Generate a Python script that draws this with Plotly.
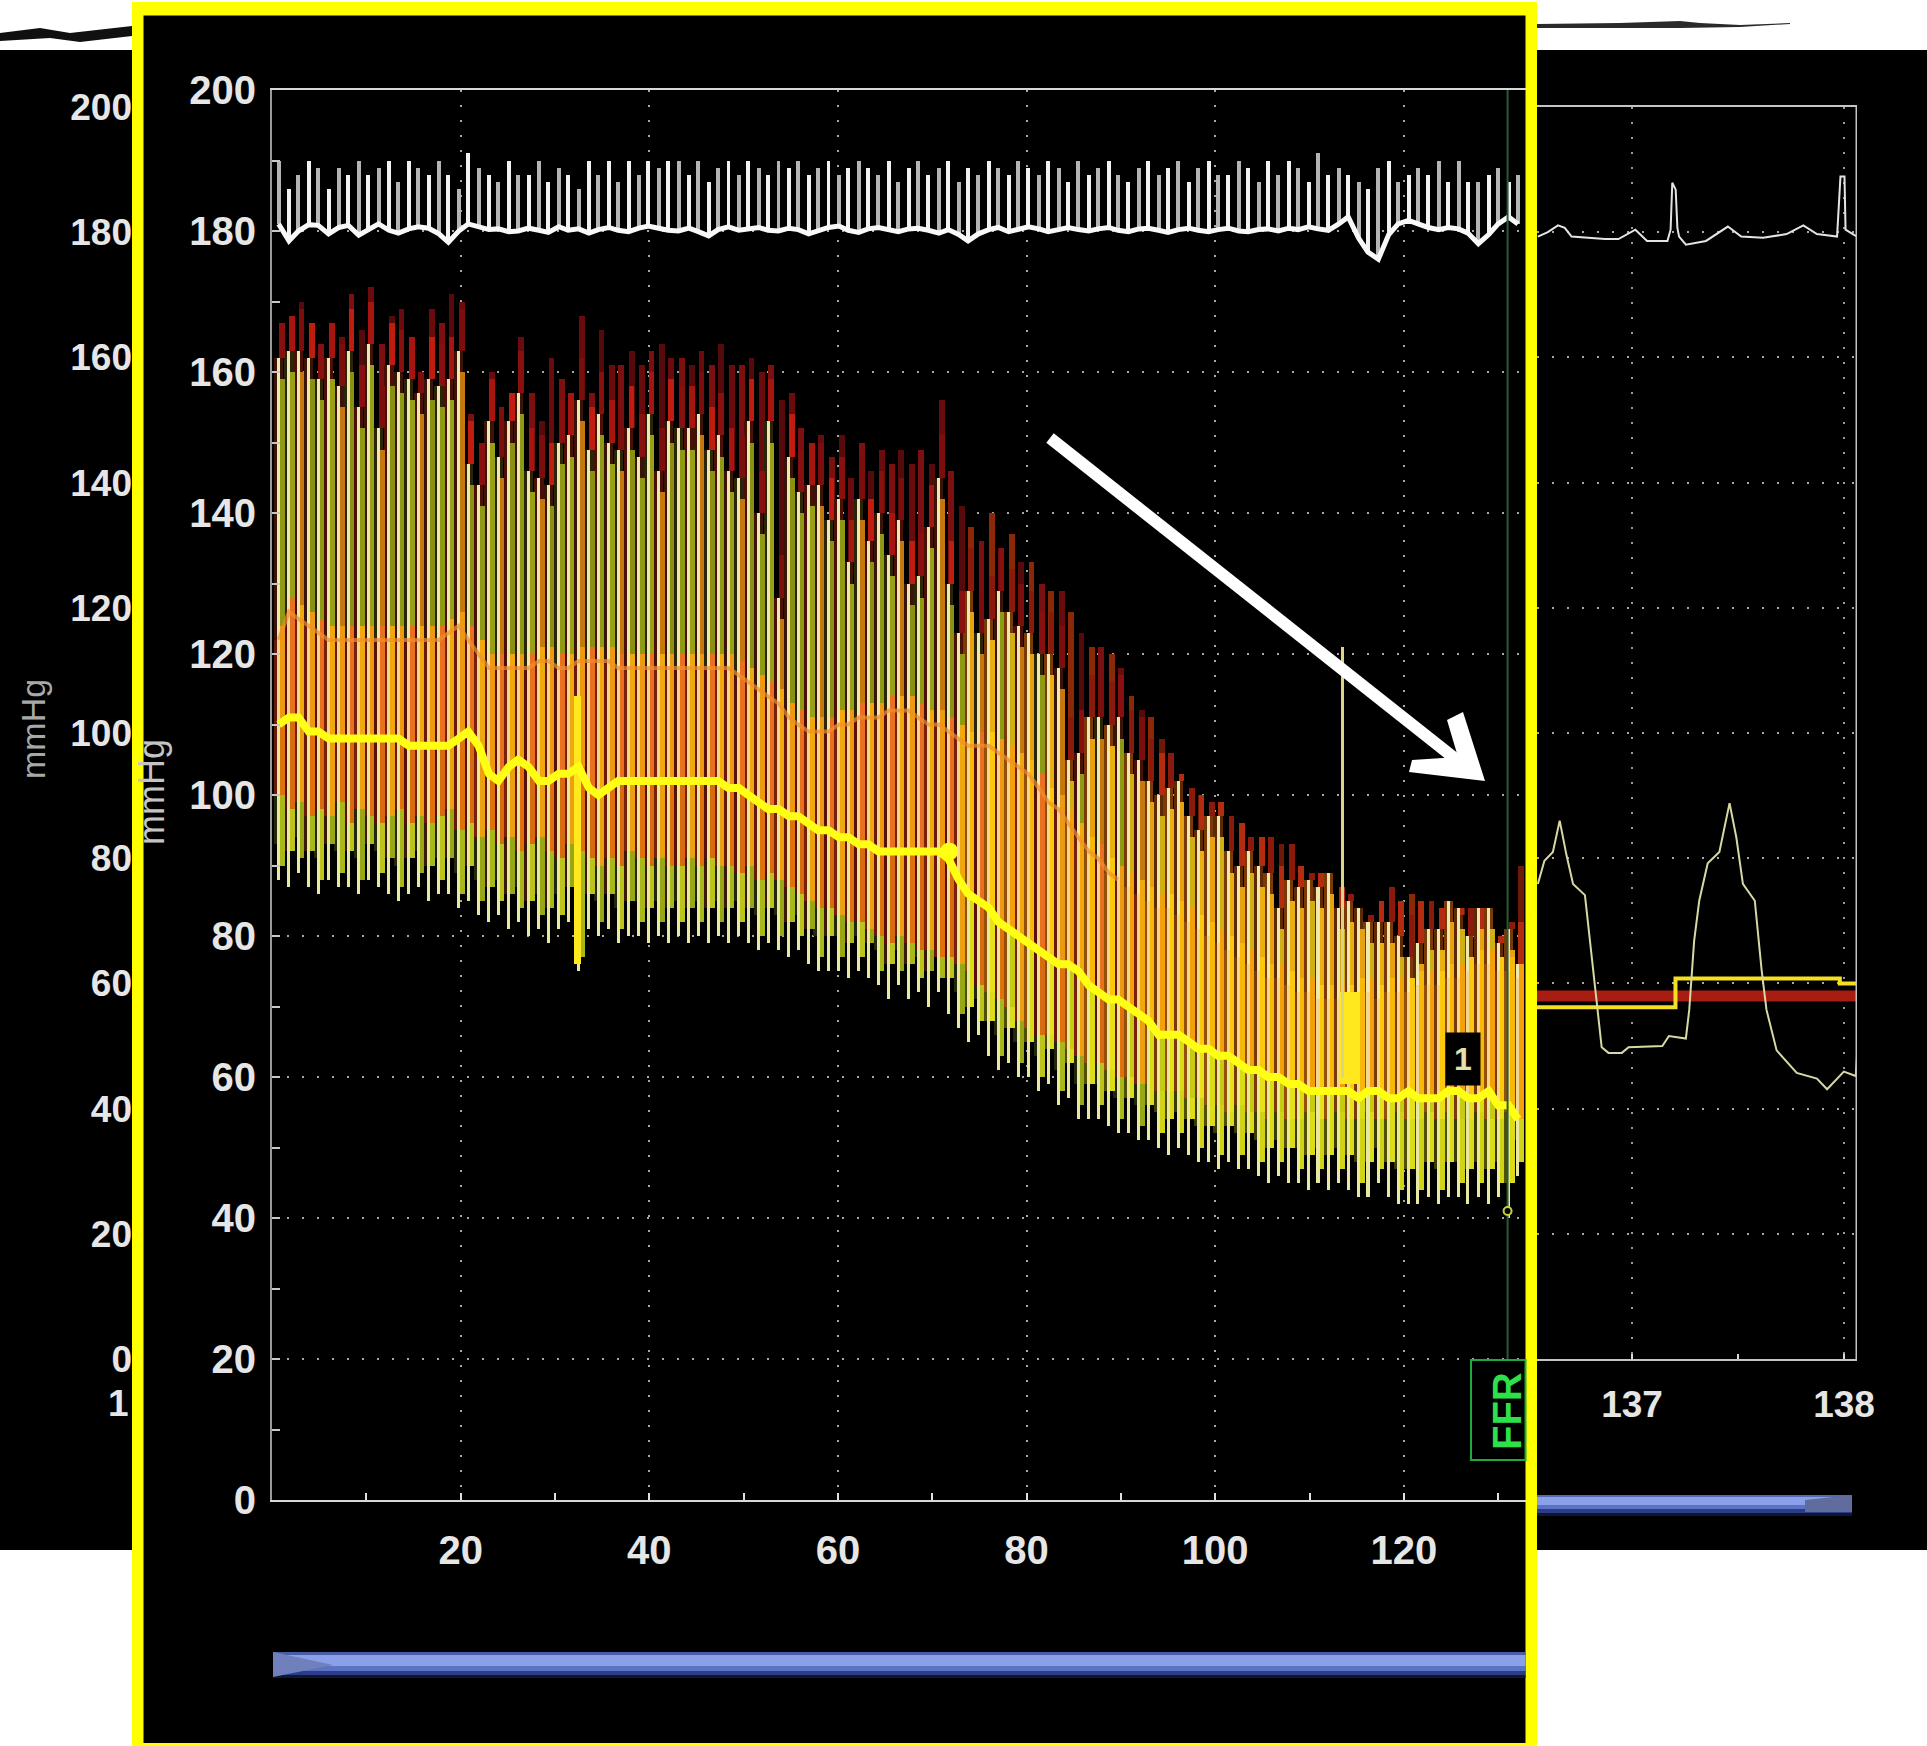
import plotly.graph_objects as go

W, H = 1927, 1746

# ---------- main recording: one entry per beat ----------
beat_x = [0.7,1.8,2.8,3.9,4.9,6.0,7.1,8.1,9.2,10.2,
11.3,12.4,13.4,14.5,15.5,16.6,17.7,18.7,19.8,20.8,
21.9,23.0,24.0,25.1,26.1,27.2,28.3,29.3,30.4,31.4,
32.5,33.6,34.6,35.7,36.7,37.8,38.9,39.9,41.0,42.0,
43.1,44.2,45.2,46.3,47.3,48.4,49.5,50.5,51.6,52.6,
53.7,54.8,55.8,56.9,57.9,59.0,60.1,61.1,62.2,63.2,
64.3,65.4,66.4,67.5,68.5,69.6,70.7,71.7,72.8,73.8,
74.9,76.0,77.0,78.1,79.1,80.2,81.3,82.3,83.4,84.4,
85.5,86.6,87.6,88.7,89.7,90.8,91.9,92.9,94.0,95.0,
96.1,97.2,98.2,99.3,100.3,101.4,102.5,103.5,104.6,105.6,
106.7,107.8,108.8,109.9,110.9,112.0,113.1,114.1,115.2,116.2,
117.3,118.4,119.4,120.5,121.5,122.6,123.7,124.7,125.8,126.8,
127.9,129.0,130.0,131.1,132.1]

pa_sys = [167,168,170,167,164,167,165,171,166,172,
164,168,169,165,160,169,167,171,170,154,
150,160,155,157,165,157,153,162,159,157,
168,157,166,161,161,163,161,163,164,162,
162,161,163,161,164,161,161,162,160,161,
156,157,152,150,151,148,151,145,150,146,
149,147,149,147,149,147,156,146,141,138,
136,140,135,137,133,133,130,129,129,126,
123,121,121,120,118,114,112,111,108,106,
103,101,100,99,99,97,96,94,94,94,
93,93,90,89,89,89,87,86,84,83,
85,87,85,86,85,85,84,85,83,84,
81,84,80,82,90]

pd_sys = [162,163,163,162,159,162,158,163,155,164,
152,161,160,159,157,159,158,159,163,147,
144,153,148,153,157,146,145,144,150,151,
156,149,154,150,149,152,148,154,146,153,
152,152,154,149,151,146,145,153,140,153,
128,148,143,144,144,139,142,133,142,136,
140,134,139,130,131,138,145,130,123,129,
123,125,129,126,124,123,120,120,118,105,
106,111,111,110,111,106,105,102,100,101,
102,97,95,97,97,92,90,92,90,89,
84,88,87,88,87,89,84,85,84,82,
82,82,80,77,79,81,81,85,84,80,
84,84,79,81,76]

pd_dia = [88,87,89,87,86,88,87,87,86,88,
87,86,85,86,87,85,86,86,84,85,
83,82,83,81,82,80,81,79,81,82,
75,81,80,81,79,80,80,79,80,79,
80,79,80,79,80,79,80,79,78,79,
78,77,78,76,75,75,75,74,75,74,
73,71,73,71,72,70,72,69,67,65,
66,63,61,62,60,60,58,59,56,57,
54,54,54,53,52,52,51,51,50,49,
50,49,48,48,47,48,47,47,46,45,
46,45,45,44,45,44,45,44,43,43,
45,43,42,42,42,43,42,43,43,42,
43,42,43,40,46]

pa_dia = [100,98,99,97,98,97,99,96,98,97,
96,97,98,96,97,96,97,98,95,96,
94,95,93,94,92,93,94,92,91,93,
92,91,90,91,90,92,91,90,91,90,
90,91,90,91,90,90,89,90,88,89,
88,87,86,85,84,84,83,82,82,81,
80,79,80,79,78,78,77,77,76,75,
73,72,71,70,68,67,66,66,65,64,
63,62,62,61,60,60,59,59,58,58,
58,57,57,56,56,55,56,55,55,54,
55,54,54,55,54,54,55,54,54,55,
54,54,55,54,54,55,54,55,54,54,
55,54,54,55,54]

pd_mean = [110,111,111,109,109,108,108,108,108,108,
108,108,108,107,107,107,107,107,108,109,
107,103,102,104,105,104,102,102,103,103,
104,101,100,101,102,102,102,102,102,102,
102,102,102,102,102,101,101,100,99,98,
98,97,97,96,95,95,94,94,93,93,
92,92,92,92,92,92,92,91,88,86,
85,84,82,81,80,79,78,77,76,76,
75,73,72,71,71,70,69,68,66,66,
66,65,64,64,63,63,62,61,61,60,
60,59,59,58,58,58,58,58,57,58,
58,57,57,58,57,57,57,58,58,57,
57,58,56,56,54]

pa_mean = [122,126,125,124,123,122,122,122,122,122,
122,122,122,122,122,122,122,123,124,122,
120,118,118,118,118,118,119,119,118,118,
119,119,119,119,118,118,118,118,118,118,
118,118,118,118,118,118,117,116,115,114,
113,111,110,109,109,109,110,110,111,111,
111,112,112,112,111,110,110,109,108,107,
107,107,106,105,104,103,101,99,98,96,
94,92,91,89,88,87,86,85,84,84,
83,82,81,80,79,78,77,76,75,74,
74,73,72,72,71,71,71,71,72,72,
71,72,72,72,73,73,73,74,74,75,
76,76,75,75,74]

ecg_base = [181.0,178.6,180.0,180.9,180.8,179.6,180.5,180.8,179.4,180.2,
181.0,180.1,179.7,180.3,180.6,180.4,179.6,178.4,180.0,181.0,
180.6,180.2,180.3,179.9,180.0,180.4,180.1,179.8,180.6,180.1,
180.3,179.7,180.2,180.5,180.1,179.9,180.4,180.7,180.4,180.1,
180.0,180.4,179.9,179.3,180.2,180.6,180.1,180.3,180.5,180.1,
180.0,180.4,180.2,179.6,180.1,180.5,180.7,180.1,179.8,180.3,
180.5,180.2,179.9,180.3,180.4,180.1,179.7,180.2,179.5,178.6,
179.6,180.2,180.5,179.9,180.3,180.6,180.3,179.9,180.2,180.5,
180.2,180.0,180.3,180.5,180.1,179.9,180.3,180.4,180.1,179.8,
180.2,180.4,180.1,179.9,180.2,180.4,180.0,179.9,180.2,180.3,
180.0,180.4,180.2,180.6,180.3,180.1,181.0,182.0,179.0,177.0,
176.0,179.5,181.0,181.5,181.0,180.5,180.2,180.5,180.3,179.7,
178.2,179.5,181.0,182.0,181.0]

ecg_spike = [190,186,188,190,189,186,189,188,190,188,
189,190,187,190,189,188,190,188,186,191,
189,188,187,190,188,188,190,187,189,188,
186,190,188,190,187,190,188,190,189,190,
190,188,190,187,189,190,188,190,189,188,
190,189,190,188,189,190,188,189,190,189,
188,190,187,189,190,188,189,190,187,189,
188,190,189,188,190,189,188,190,189,187,
190,188,189,190,188,187,189,190,188,189,
190,187,189,190,188,188,190,189,187,190,
188,190,189,187,191,188,189,188,187,186,
189,190,187,188,189,188,190,187,190,187,
187,188,189,187,188]

# isolated events
event_x = [32.4, 114.2]
event_lo = [76, 59]
event_hi = [114, 72]
event_w = [0.7, 2.2]
lone_spike_x = [113.5]
lone_spike_lo = [60]
lone_spike_hi = [121]
ffr_x = [131, 131]
ffr_y = [20, 200]
ffr_dot_x = [131]
ffr_dot_y = [41]
blob_x = [71.8]
blob_y = [92]
label_one_x = 126.3
label_one_y = 62.6

# ---------- back panel (enlarged last beats) ----------
ecg2_x = [136.556,136.603,136.651,136.683,136.715,136.873,136.936,137.016,137.071,137.167,137.182,137.190,137.206,137.214,137.222,137.254,137.349,137.452,137.515,137.618,137.729,137.808,137.872,137.967,137.983,138.002,138.007,138.061]
ecg2_y = [179.3,180.0,181.1,180.7,179.3,178.9,178.9,180.4,178.6,178.6,180.4,187.9,186.8,180.7,179.3,178.0,178.6,180.9,179.3,179.1,179.7,181.1,179.7,179.3,188.9,188.9,180.4,179.3]
pulse_x = [136.556,136.587,136.627,136.659,136.691,136.722,136.778,136.810,136.834,136.857,136.889,136.952,136.984,137.143,137.174,137.254,137.270,137.293,137.317,137.357,137.412,137.460,137.492,137.523,137.579,137.611,137.634,137.682,137.777,137.872,137.920,137.999,138.055,138.061]
pulse_y = [75.9,79.6,81.0,86.0,80.5,75.9,74.1,64.0,56.7,49.8,48.9,48.9,49.8,50.0,51.6,51.2,55.8,66.8,73.2,79.2,81.0,88.8,83.3,75.9,73.2,62.2,55.8,49.3,45.7,44.8,43.1,45.9,45.2,48.4]
red_x = [136.552, 138.061]
red_y = [58, 58]
step_x = [136.552, 137.205, 137.205, 137.98, 137.98, 138.061]
step_y = [56.2, 56.2, 60.8, 60.8, 60, 60]
back_end_x = [138.061, 138.061]
back_end_y = [0, 200]

main_ticks_y = [0,20,40,60,80,100,120,140,160,180,200]
main_ticks_x = [20,40,60,80,100,120]
back_ticks_x = [137,138]

# ---------- pixel helpers for page furniture ----------
def X(p): return p / W
def Y(p): return 1 - p / H
def rect(x0, y0, x1, y1, fill, layer="below", line=None):
    return dict(type="rect", xref="paper", yref="paper", x0=X(x0), x1=X(x1), y0=Y(y0), y1=Y(y1),
                fillcolor=fill, layer=layer, line=line or dict(width=0))
def path(pts, fill=None, stroke=None, width=0, layer="above", close=True):
    d = "M " + " L ".join(f"{X(a):.5f},{Y(b):.5f}" for a, b in pts) + (" Z" if close else "")
    return dict(type="path", path=d, xref="paper", yref="paper", fillcolor=fill or "rgba(0,0,0,0)",
                layer=layer, line=dict(color=stroke or "rgba(0,0,0,0)", width=width))

shapes = [
    rect(0, 50, W, 1550, "#000000"),
    rect(132, 2, 1537, H, "#ffff00"),
    rect(143.5, 15.5, 1525.5, 1743, "#000000"),
    # ink scribbles at the top edge
    path([(0,33),(40,28),(70,33),(132,26),(132,36),(80,42),(50,38),(0,41)], "#101010", layer="below"),
    path([(1537,24),(1620,23),(1680,21),(1700,23),(1740,25),(1790,23),(1790,24),(1740,27),(1680,28),(1600,28),(1537,28)], "#2a2a2a", layer="below"),
]
# blue bars built from horizontal strips
for y0, y1, c in [(1652,1655,"#4a5ea8"),(1655,1666,"#8aa0e8"),(1666,1671,"#5c72c4"),(1671,1675,"#2c3c86"),(1675,1678,"#0e1638")]:
    shapes.append(rect(273, y0, 1525.5, y1, c))
shapes.append(path([(273,1652),(333,1665),(273,1677)], "#6f80bc", layer="below"))
for y0, y1, c in [(1495,1497,"#5468b4"),(1497,1505,"#8aa0e8"),(1505,1509,"#5c72c4"),(1509,1513,"#2c3c86"),(1513,1516,"#0e1638")]:
    shapes.append(rect(1537, y0, 1852, y1, c))
shapes.append(path([(1805,1500),(1852,1495),(1852,1512),(1805,1512)], "#5f6c9c", layer="below"))
# FFR box
shapes.append(rect(1471, 1360, 1525.5, 1460, "#000000", layer="above", line=dict(color="#1fa83c", width=2)))
# white arrow
shapes.append(path([(1050,438),(1472,772)], None, "#ffffff", 12, close=False))
shapes.append(path([(1485,781),(1463,712),(1447,720),(1458,757),(1412,760),(1409,772)], "#ffffff"))

fig = go.Figure()

def bars(lo, hi, width, color, x=None, offset=0.0):
    xs = x if x is not None else beat_x
    fig.add_trace(go.Bar(x=[v + offset for v in xs], base=lo, y=[b - a for a, b in zip(lo, hi)],
                         width=width, marker=dict(color=color, line=dict(width=0)),
                         hoverinfo="skip", showlegend=False, xaxis="x", yaxis="y"))

def tone(left, right, start=68, stop=88):
    """Per-beat colours: early tones, a mixed stretch, then late tones."""
    out = []
    for i in range(len(beat_x)):
        if i < start:
            out.append(left[i % len(left)])
        elif i >= stop:
            out.append(right[i % len(right)])
        else:
            out.append(right[i % len(right)] if i % 2 else left[i % len(left)])
    return out

n = len(beat_x)
hot_top = [min(a, b + 6) for a, b in zip(pa_sys, pd_sys)]
lower_dark = [b + 5 for b in pd_dia]
olive_top = [b - 3 for b in pd_sys]
band_top = [m + 2 for m in pa_mean]
col_bottom = [d + 5 if i % 2 else d + 2 for i, d in enumerate(pd_dia)]

# dark ground of every beat
bars(pd_sys, pa_sys, 0.62, tone(["#6a0c0e", "#7c1010", "#560a0c"], ["#6e1808", "#8a2808"]), offset=0.33)
bars(pa_mean, pd_sys, 0.98, tone(["#3a1408", "#2a2408", "#4a1008"], ["#5e2a06", "#7a3a08"]))
bars(pa_dia, pa_mean, 0.98, tone(["#6a1808", "#5a1006", "#7a2008"], ["#7a3a08", "#945008"]))
bars(lower_dark, pa_dia, 0.98, tone(["#24280a", "#3a1a06"], ["#3c3c00", "#505000"]))
# brighter red just over the Pd systolic level
bars(pd_sys, hot_top, 0.6, tone(["#8a1010", "#a81410", "#7c0e0e", "#c01c10"], ["#b42c10", "#8c1a0c"]), offset=0.33)
# coloured column beside the pale trace, upper part
bars(pa_mean, olive_top, 0.55, tone(["#8d9a12", "#98a014", "#c4780e", "#8a9010"], ["#e8a20e", "#d0b010", "#eab010"]), offset=0.36)
# between the two means
bars(pd_mean, band_top, 0.55, tone(["#ee9a10", "#e8701e", "#f0a80c"], ["#f8b808", "#f4a008", "#fcc80c"]), offset=0.36)
# under the Pd mean
bars(pa_dia, pd_mean, 0.55, tone(["#e0720e", "#d86a10", "#eca010"], ["#dcdc14", "#c8cc10", "#e8e018"]), offset=0.36)
bars(col_bottom, pa_dia, 0.55, tone(["#a8b818", "#bcc41c", "#98a814"], ["#d0d414", "#dcdc18"]), offset=0.36)
# pale Pd traces
bars(pa_mean, pd_sys, 0.32, "#efe8b2")
bars(pd_mean, pa_mean, 0.32, "#f4d694")
bars(pd_dia, pd_mean, 0.32, "#e8e8a0")
# single events
bars(event_lo, event_hi, event_w, "#ffe81e", x=event_x)
bars(lone_spike_lo, lone_spike_hi, 0.25, "#dcd488", x=lone_spike_x)
# ECG spikes and baseline
bars(ecg_base, ecg_spike, 0.42, ["#f2f2f2" if i % 2 else "#b4b4b4" for i in range(n)])

common = dict(hoverinfo="skip", showlegend=False)
fig.add_trace(go.Scatter(x=beat_x, y=ecg_base, mode="lines", line=dict(color="#f8f8f8", width=5), **common))
fig.add_trace(go.Scatter(x=beat_x[:85], y=pa_mean[:85], mode="lines", line=dict(color="#f09030", width=4), opacity=0.7, **common))
fig.add_trace(go.Scatter(x=beat_x, y=pd_mean, mode="lines", line=dict(color="#ffff14", width=8), **common))
fig.add_trace(go.Scatter(x=blob_x, y=blob_y, mode="markers", marker=dict(color="#ffff14", size=18), **common))
fig.add_trace(go.Scatter(x=ffr_x, y=ffr_y, mode="lines", line=dict(color="#285c34", width=2), **common))
fig.add_trace(go.Scatter(x=ffr_dot_x, y=ffr_dot_y, mode="markers",
                         marker=dict(color="#000000", size=8, line=dict(color="#c8d040", width=2)), **common))

# back panel traces
fig.add_trace(go.Scatter(x=red_x, y=red_y, xaxis="x2", yaxis="y2", mode="lines", line=dict(color="#a81c12", width=11), **common))
fig.add_trace(go.Scatter(x=step_x, y=step_y, xaxis="x2", yaxis="y2", mode="lines", line=dict(color="#f4e020", width=4), **common))
fig.add_trace(go.Scatter(x=pulse_x, y=pulse_y, xaxis="x2", yaxis="y2", mode="lines", line=dict(color="#d8d8a4", width=2), **common))
fig.add_trace(go.Scatter(x=ecg2_x, y=ecg2_y, xaxis="x2", yaxis="y2", mode="lines", line=dict(color="#e4e4e4", width=2), **common))
fig.add_trace(go.Scatter(x=back_end_x, y=back_end_y, xaxis="x2", yaxis="y2", mode="lines", line=dict(color="#c4c4c4", width=3), **common))

TXT = "#e6e6e6"
DOT = "2px,13px"
main_font = dict(family="Liberation Sans", size=40, weight=700, color=TXT)
back_font = dict(family="Liberation Sans", size=37, weight=700, color=TXT)

def note(text, px, py, font, angle=0, anchor="center"):
    return dict(text=text, xref="paper", yref="paper", x=X(px), y=Y(py), xanchor=anchor, yanchor="middle",
                textangle=angle, showarrow=False, font=font)

annotations = [
    note("mmHg", 33, 729, dict(family="Liberation Sans", size=34, color="#a8a8a8"), -90),
    note("mmHg", 152, 792, dict(family="Liberation Sans", size=36, color="#c4c4c4"), -90),
    note("1", 131, 1403, back_font, anchor="right"),
    dict(text="1", x=label_one_x, y=label_one_y, xref="x", yref="y", xanchor="center", yanchor="middle",
         showarrow=False, bgcolor="#000000", borderpad=8,
         font=dict(family="Liberation Sans", size=32, weight=700, color="#e0e0b0")),
    note("FFR", 1507, 1411, dict(family="Liberation Sans", size=40, weight=700, color="#2ee04a"), -90),
]

fig.update_layout(
    width=W, height=H, autosize=False, margin=dict(l=0, r=0, t=0, b=0, pad=0, autoexpand=False),
    paper_bgcolor="#ffffff", plot_bgcolor="rgba(0,0,0,0)", barmode="overlay", bargap=0, showlegend=False,
    shapes=shapes, annotations=annotations,
    xaxis=dict(domain=[X(272), X(1525.5)], range=[0, 132.9], anchor="y", tickvals=main_ticks_x,
               ticks="inside", ticklen=7, tickwidth=2, tickcolor="#e0e0e0",
               minor=dict(dtick=10, tick0=0, ticks="inside", ticklen=7, tickwidth=2, tickcolor="#e0e0e0"),
               showline=True, linecolor="#d8d8d8", linewidth=2, mirror=True,
               showgrid=True, gridcolor="#a8a8a8", griddash=DOT, gridwidth=2, zeroline=False,
               tickfont=main_font, ticklabelstandoff=14),
    yaxis=dict(domain=[Y(1500), Y(90)], range=[0, 200], anchor="x", tickvals=main_ticks_y,
               ticks="inside", ticklen=8, tickwidth=2, tickcolor="#c8c8c8",
               minor=dict(dtick=10, tick0=0, ticks="inside", ticklen=8, tickwidth=2, tickcolor="#c8c8c8"),
               showline=True, linecolor="#9a9a9a", linewidth=2,
               showgrid=True, gridcolor="#a8a8a8", griddash=DOT, gridwidth=2, zeroline=False,
               tickfont=main_font, ticklabelstandoff=6),
    xaxis2=dict(domain=[X(1537), X(1857)], range=[136.552, 138.061], anchor="y2", tickvals=back_ticks_x,
                ticks="inside", ticklen=5, tickwidth=2, tickcolor="#d8d8d8",
                minor=dict(dtick=0.5, tick0=137, ticks="inside", ticklen=5, tickwidth=2, tickcolor="#d8d8d8"),
                showline=True, linecolor="#c4c4c4", linewidth=2, mirror=True,
                showgrid=True, gridcolor="#9a9a9a", griddash=DOT, gridwidth=2, zeroline=False,
                tickfont=back_font, ticklabelstandoff=12),
    yaxis2=dict(domain=[Y(1359), Y(107)], range=[0, 200], anchor="free", position=X(132), tickvals=main_ticks_y,
                ticks="", showline=False, showgrid=True, gridcolor="#a8a8a8", griddash=DOT, gridwidth=2,
                zeroline=False, tickfont=back_font, ticklabelstandoff=0),
)

fig.write_html("out.html", config={"displayModeBar": False},
               post_script="document.body.style.margin='0';document.body.style.overflow='hidden';")
